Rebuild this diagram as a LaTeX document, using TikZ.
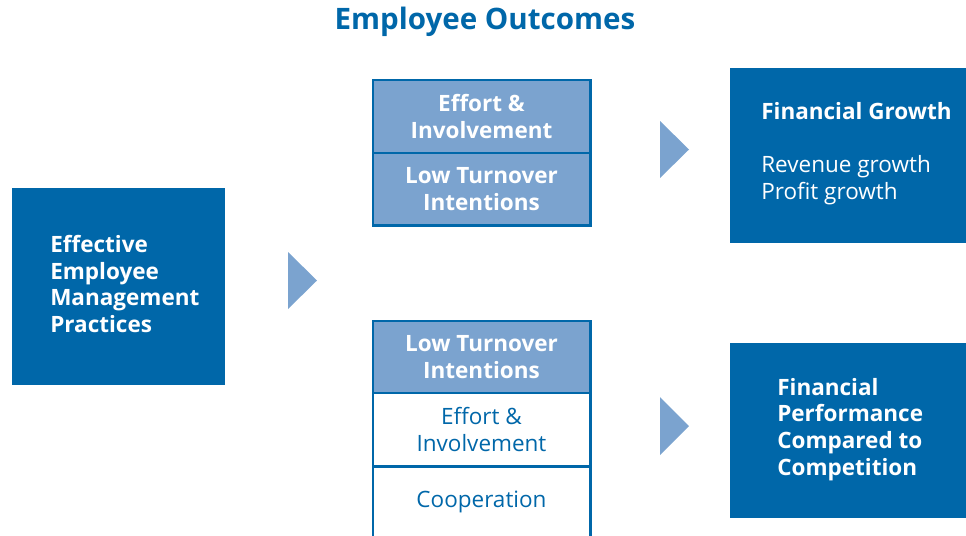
\documentclass[tikz,border=0pt]{standalone}
\usepackage{fontspec}
\setmainfont{Open Sans}
\usetikzlibrary{positioning}
\definecolor{empdark}{HTML}{0067A9}
\definecolor{emplight}{HTML}{7BA3CF}
\tikzset{
	bigbox/.style={fill=empdark,draw=none,inner sep=0pt,outer sep=0pt},
	cellfull/.style={fill=emplight,draw=empdark,line width=2.1pt,text=white,font=\bfseries\fontsize{16}{19}\selectfont,align=center,minimum width=5.425cm,inner sep=0pt,outer sep=0pt},
	cellempty/.style={cellfull,fill=white,text=empdark,font=\fontsize{16}{19}\selectfont},
	boxtext/.style={text=white,font=\bfseries\fontsize{16}{19}\selectfont,align=left,inner sep=0pt},
	pointer/.style={fill=emplight}
}
\begin{document}
\begin{tikzpicture}[x=0.025cm,y=-0.025cm]
	\useasboundingbox (0,0) rectangle (966,535);
	\node[font=\bfseries\fontsize{21}{25}\selectfont,text=empdark] (title) at (485,22) {Employee Outcomes};

	% left box
	\node[bigbox,minimum width=5.325cm,minimum height=4.9cm] (practices) at (118.5,286.5) {};
	\node[boxtext,anchor=west] (practicestext) at (50,284) {Effective\\Employee\\Management\\Practices};

	% upper stack
	\node[cellfull,minimum height=1.825cm] (effortA) at (481.5,116.5) {Effort \&\\Involvement};
	\node[cellfull,minimum height=1.8cm] (turnoverA) [below=0pt of effortA] {Low Turnover\\Intentions};

	% lower stack
	\node[cellfull,minimum height=1.8cm] (turnoverB) at (481.5,357) {Low Turnover\\Intentions};
	\node[cellempty,minimum height=1.825cm] (effortB) [below=0pt of turnoverB] {Effort \&\\Involvement};
	\draw[empdark,line width=2.1pt] (effortB.south west) -- ++(0,70);
	\draw[empdark,line width=2.1pt] (effortB.south east) -- ++(0,70);
	\node[text=empdark,font=\fontsize{16}{19}\selectfont] (coop) at (481.5,502) {Cooperation};

	% right boxes
	\node[bigbox,minimum width=5.9cm,minimum height=4.375cm] (growth) at (848,155.5) {};
	\node[boxtext,anchor=north west] (growthtext) at (761,102) {Financial Growth\\[19pt]\mdseries Revenue growth\\\mdseries Profit growth};
	\node[bigbox,minimum width=5.9cm,minimum height=4.375cm] (performance) at (848,430.5) {};
	\node[boxtext,anchor=west] (performancetext) at (777,429.5) {Financial\\Performance\\Compared to\\Competition};

	% pointers
	\fill[pointer] (288,252) -- (317,280.5) -- (288,309) -- cycle;
	\fill[pointer] (660,121) -- (689,149.5) -- (660,178) -- cycle;
	\fill[pointer] (660,397) -- (689,426) -- (660,455) -- cycle;
\end{tikzpicture}
\end{document}
